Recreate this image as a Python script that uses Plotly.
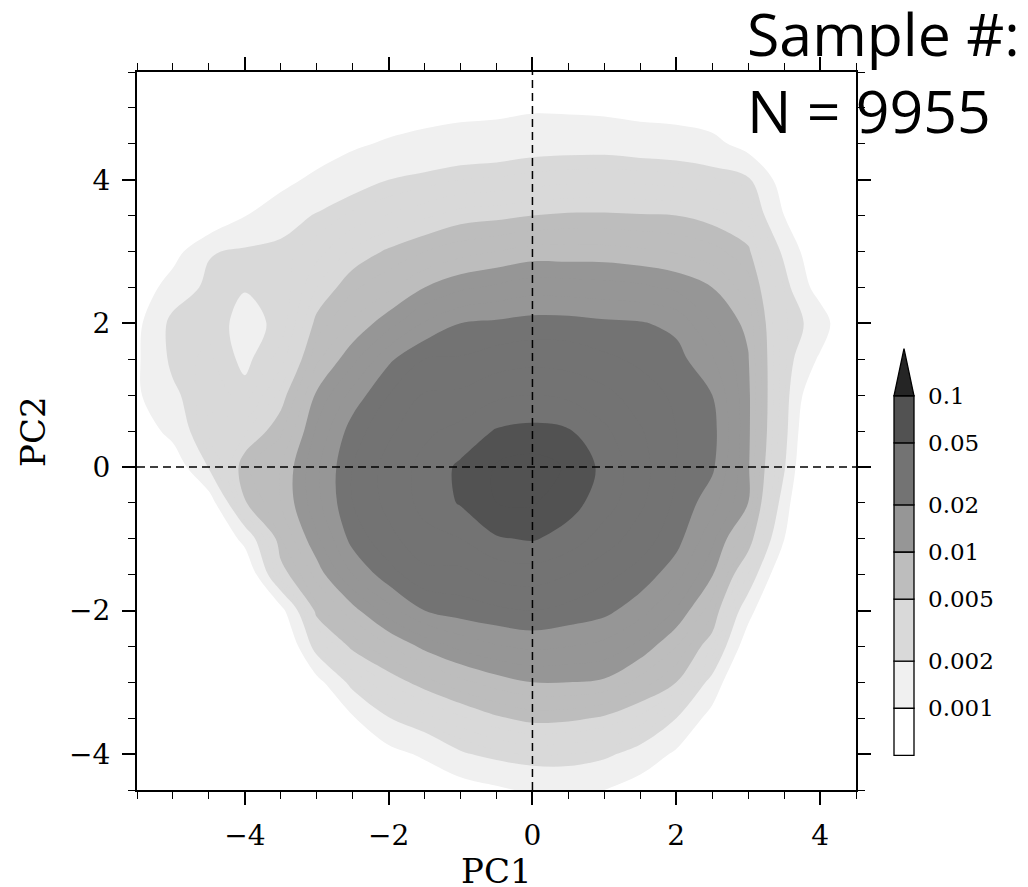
import numpy as np
import plotly.graph_objects as go

# ---------------- data ----------------
pc1 = [-5.5, -5.0, -4.5, -4.0, -3.5, -3.0, -2.5, -2.0, -1.5, -1.0, -0.5,
       0.0, 0.5, 1.0, 1.5, 2.0, 2.5, 3.0, 3.5, 4.0, 4.5]
pc2_top_down = [5.5, 5.0, 4.5, 4.0, 3.5, 3.0, 2.5, 2.0, 1.5, 1.0, 0.5,
                0.0, -0.5, -1.0, -1.5, -2.0, -2.5, -3.0, -3.5, -4.0, -4.5]

# log10 of the estimated density, one list per PC1 column, PC2 from 5.5 down to -4.5
log10_density_cols = [
    [-4.5, -4.3, -4.1, -3.9, -3.7, -3.45, -3.2, -3.07, -3.04, -3.04, -3.2, -3.5, -3.8, -4.0, -4.2, -4.3, -4.4, -4.5, -4.5, -4.5, -4.5],
    [-4.2, -3.95, -3.7, -3.5, -3.3, -3.12, -2.86, -2.62, -2.64, -2.75, -2.9, -3.2, -3.5, -3.75, -3.95, -4.1, -4.25, -4.35, -4.45, -4.5, -4.5],
    [-4.1, -3.9, -3.7, -3.45, -3.3, -2.72, -2.64, -2.62, -2.58, -2.52, -2.48, -2.68, -3.15, -3.4, -3.6, -3.8, -4.0, -4.2, -4.3, -4.4, -4.5],
    [-4.0, -3.8, -3.55, -3.3, -3.01, -2.66, -2.69, -2.76, -2.74, -2.65, -2.42, -2.22, -2.31, -2.9, -3.3, -3.6, -3.85, -4.0, -4.2, -4.35, -4.5],
    [-3.75, -3.55, -3.35, -3.1, -2.81, -2.64, -2.68, -2.66, -2.55, -2.36, -2.22, -2.1, -2.1, -2.2, -2.37, -3.1, -3.4, -3.65, -3.9, -4.1, -4.3],
    [-3.6, -3.4, -3.2, -2.92, -2.68, -2.54, -2.40, -2.26, -2.12, -1.98, -1.88, -1.82, -1.83, -1.92, -2.06, -2.24, -2.58, -3.1, -3.4, -3.7, -3.95],
    [-3.5, -3.3, -3.05, -2.79, -2.57, -2.38, -2.22, -2.08, -1.93, -1.76, -1.65, -1.6, -1.6, -1.66, -1.80, -2.04, -2.26, -2.61, -3.03, -3.35, -3.65],
    [-3.45, -3.2, -2.96, -2.7, -2.49, -2.28, -2.12, -1.94, -1.72, -1.6, -1.52, -1.46, -1.47, -1.53, -1.64, -1.84, -2.11, -2.38, -2.71, -3.1, -3.4],
    [-3.4, -3.15, -2.89, -2.65, -2.42, -2.20, -2.0, -1.79, -1.6, -1.49, -1.42, -1.37, -1.37, -1.43, -1.53, -1.7, -1.97, -2.24, -2.54, -2.95, -3.25],
    [-3.35, -3.1, -2.85, -2.60, -2.35, -2.14, -1.92, -1.7, -1.59, -1.48, -1.37, -1.28, -1.29, -1.40, -1.53, -1.65, -1.87, -2.13, -2.42, -2.73, -3.15],
    [-3.3, -3.08, -2.83, -2.58, -2.33, -2.10, -1.88, -1.68, -1.55, -1.42, -1.29, -1.19, -1.2, -1.31, -1.47, -1.62, -1.81, -2.05, -2.32, -2.63, -3.05],
    [-3.3, -3.04, -2.79, -2.55, -2.30, -2.06, -1.84, -1.66, -1.53, -1.40, -1.27, -1.16, -1.19, -1.29, -1.45, -1.60, -1.78, -2.0, -2.26, -2.58, -2.95],
    [-3.3, -3.05, -2.78, -2.53, -2.28, -2.06, -1.85, -1.66, -1.54, -1.42, -1.29, -1.21, -1.26, -1.34, -1.5, -1.63, -1.80, -2.0, -2.27, -2.6, -2.9],
    [-3.3, -3.07, -2.78, -2.52, -2.28, -2.06, -1.86, -1.68, -1.58, -1.47, -1.38, -1.33, -1.35, -1.45, -1.57, -1.67, -1.83, -2.02, -2.32, -2.65, -3.0],
    [-3.35, -3.12, -2.81, -2.53, -2.29, -2.08, -1.88, -1.69, -1.62, -1.55, -1.49, -1.46, -1.48, -1.55, -1.64, -1.76, -1.93, -2.14, -2.43, -2.80, -3.15],
    [-3.4, -3.15, -2.83, -2.55, -2.3, -2.11, -1.92, -1.73, -1.66, -1.62, -1.6, -1.6, -1.62, -1.66, -1.76, -1.91, -2.10, -2.3, -2.7, -3.05, -3.4],
    [-3.5, -3.2, -2.91, -2.58, -2.35, -2.16, -2.0, -1.90, -1.79, -1.7, -1.66, -1.68, -1.76, -1.87, -1.99, -2.16, -2.39, -2.79, -3.12, -3.45, -3.75],
    [-3.7, -3.4, -3.12, -2.66, -2.45, -2.27, -2.15, -2.03, -1.99, -1.97, -1.97, -1.98, -2.0, -2.19, -2.5, -2.88, -3.2, -3.5, -3.8, -4.05, -4.3],
    [-4.0, -3.7, -3.4, -3.15, -3.0, -2.75, -2.6, -2.58, -2.57, -2.58, -2.6, -2.67, -2.82, -2.99, -3.3, -3.55, -3.8, -4.0, -4.2, -4.35, -4.5],
    [-4.3, -4.1, -3.9, -3.7, -3.5, -3.3, -3.15, -2.8, -3.05, -3.4, -3.6, -3.7, -3.85, -4.0, -4.2, -4.3, -4.4, -4.5, -4.5, -4.5, -4.5],
    [-4.5, -4.4, -4.3, -4.1, -3.9, -3.75, -3.6, -3.5, -3.6, -3.8, -3.9, -4.0, -4.1, -4.2, -4.3, -4.4, -4.5, -4.5, -4.5, -4.5, -4.5],
]

levels = [0.001, 0.002, 0.005, 0.01, 0.02, 0.05, 0.1]
level_labels = ["0.001", "0.002", "0.005", "0.01", "0.02", "0.05", "0.1"]
colorbar_floor = 0.0005
arrow_top = 0.2
band_colors = ["#ffffff", "#f0f0f0", "#d9d9d9", "#bdbdbd", "#969696",
               "#737373", "#525252", "#252525"]
x_title, y_title = "PC1", "PC2"
sample_n = 9955

# ---------------- build ----------------
# the page body adds an 8 px margin at top/left; the figure fills the rest of the window
OFF = 8
W, H = 1028 - OFF, 887 - OFF

def px_x(p):
    return (p - OFF) / W

def px_y(p):
    return 1 - (p - OFF) / H

z = np.array(log10_density_cols).T[::-1]
pc2 = pc2_top_down[::-1]

c_start, c_end, c_size = -3.0, -1.0, 0.1
zlo, zhi = c_start - c_size / 2, c_end + c_size / 2
log_levels = np.log10(levels)
cscale = [[0.0, band_colors[0]]]
for i, lv in enumerate(log_levels):
    p = (lv - zlo) / (zhi - zlo)
    cscale.append([p, band_colors[i]])
    cscale.append([p, band_colors[i + 1]])
cscale.append([1.0, band_colors[-1]])

fig = go.Figure()
fig.add_trace(go.Contour(
    x=pc1, y=pc2, z=z,
    autocontour=False,
    contours=dict(start=c_start, end=c_end, size=c_size, coloring="fill", showlines=False),
    colorscale=cscale, showscale=False,
    line=dict(width=0, smoothing=1.0),
    hoverinfo="skip",
))

# colorbar made of boxes on its own axes (log10 scale)
edges = np.log10([colorbar_floor] + levels)
fig.add_trace(go.Bar(
    x=[0] * (len(edges) - 1), base=edges[:-1], y=np.diff(edges),
    width=1.0, marker=dict(color=band_colors[:-1], line=dict(color="black", width=1.3)),
    xaxis="x2", yaxis="y2", hoverinfo="skip", showlegend=False,
))
top_log, tip_log = np.log10(levels[-1]), np.log10(arrow_top)

tick_font = dict(family="DejaVu Serif", size=28, color="black")
title_font = dict(family="DejaVu Serif", size=34, color="black")
common = dict(showgrid=False, zeroline=False, showline=True, linecolor="black", linewidth=2,
              mirror="ticks", ticks="outside", ticklen=13, tickwidth=1.6, tickcolor="black",
              tickfont=tick_font, automargin=False, ticklabelstandoff=6,
              minor=dict(dtick=0.5, ticks="outside", ticklen=7, tickwidth=1.3, tickcolor="black"))

fig.update_layout(
    width=W, height=H, margin=dict(l=0, r=0, t=0, b=0, autoexpand=False),
    paper_bgcolor="white", plot_bgcolor="white", showlegend=False,
    xaxis=dict(domain=[px_x(137), px_x(856)], range=[-5.5, 4.5], tick0=0, dtick=2, **common),
    yaxis=dict(domain=[px_y(790), px_y(72)], range=[-4.5, 5.5], tick0=0, dtick=2, **common),
    xaxis2=dict(domain=[px_x(893), px_x(915)], range=[-0.55, 0.55], visible=False, anchor="y2"),
    yaxis2=dict(domain=[px_y(757), px_y(347)], range=[np.log10(colorbar_floor) - 0.011, tip_log + 0.011],
                anchor="x2", side="right", showgrid=False, zeroline=False, showline=False,
                ticks="", tickvals=log_levels, ticktext=level_labels, ticklabelstandoff=12,
                automargin=False,
                tickfont=dict(family="DejaVu Serif", size=23, color="black")),
    shapes=[
        dict(type="path", xref="x2", yref="y2",
             path=f"M -0.5,{top_log} L 0.5,{top_log} L 0,{tip_log} Z",
             fillcolor=band_colors[-1], line=dict(color="black", width=1.3)),
        dict(type="line", xref="x", yref="y domain", x0=0, x1=0, y0=0, y1=1,
             line=dict(color="black", width=1.5, dash="8px,5px"), layer="above"),
        dict(type="line", xref="x domain", yref="y", x0=0, x1=1, y0=0, y1=0,
             line=dict(color="black", width=1.5, dash="8px,5px"), layer="above"),
    ],
    annotations=[
        dict(text=f"Sample #:<br>N = {sample_n}", x=px_x(745), y=px_y(-9), xref="paper", yref="paper",
             xanchor="left", yanchor="top", align="left", showarrow=False,
             font=dict(family="Open Sans", size=59, color="black")),
        dict(text=x_title, x=px_x(496), y=px_y(871), xref="paper", yref="paper",
             xanchor="center", yanchor="middle", showarrow=False, font=title_font),
        dict(text=y_title, x=px_x(33), y=px_y(432), xref="paper", yref="paper",
             xanchor="center", yanchor="middle", textangle=-90, showarrow=False, font=title_font),
    ],
)

fig.write_html("out.html")
